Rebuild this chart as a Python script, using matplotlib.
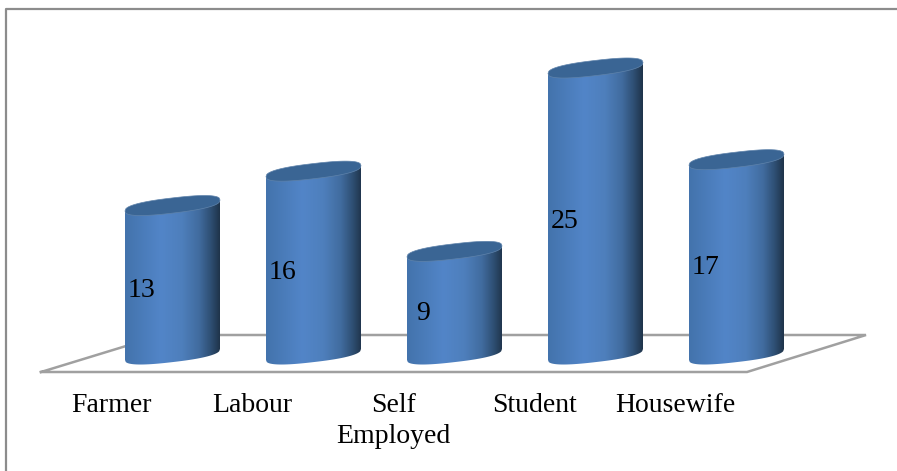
import numpy as np
from matplotlib import pyplot as plt
from matplotlib.colors import LinearSegmentedColormap
from matplotlib.patches import Polygon

#Values
categories = ['Farmer', 'Labour', 'Self\nEmployed', 'Student', 'Housewife']
values = [13, 16, 9, 25, 17]

#Pixel layout of the picture
W, H = 897, 471
X0, Y0 = 172.5, 360.0
XSTEP, YSTEP = 141.0, 11.46
BARW = 95.0
TILT = 11.0
RY = 7.6

fig = plt.figure(figsize=(W / 100, H / 100), dpi=100)
ax = fig.add_axes([0, 0, 1, 1])
ax.axis('off')


def dx(px):
    return (px - X0) / XSTEP


def dy(py):
    return (Y0 - py) / YSTEP


xlim = (dx(0), dx(W))
ylim = (dy(H), dy(0))

#Outer frame (open on the right and bottom) and floor of the 3D chart
grey = '#a0a0a0'
ax.plot([dx(6), dx(6), dx(897)], [dy(471), dy(9), dy(9)], color='#8c8c8c', lw=1.6)
floorX = [41, 747, 866, 162, 41]
floorY = [372, 372, 335, 335, 372]
ax.plot([dx(p) for p in floorX], [dy(p) for p in floorY], color=grey, lw=1.8, solid_joinstyle='miter')

#Shading across a cylinder, left to right
shade = LinearSegmentedColormap.from_list('cyl', [
    (0.0, '#4373ac'), (0.38, '#5285c8'), (0.60, '#4e7fbc'),
    (0.78, '#416c9f'), (0.90, '#2f5075'), (1.0, '#1f334a')])
gradient = np.linspace(0, 1, 256).reshape(1, -1)

#Arc of the tilted ellipse, a little fuller than a true ellipse near the ends
t = np.linspace(-1, 1, 120)
arc = (1 - np.abs(t) ** 2.5) ** (1 / 2.5)

for i, v in enumerate(values):
    centre = X0 + i * XSTEP
    xs = centre + t * BARW / 2
    baseMid = Y0 - TILT / 2 - t * TILT / 2
    topMid = baseMid - v * YSTEP

    #Body: top edge left to right, then bottom edge back
    bodyX = np.concatenate([xs, xs[::-1]])
    bodyY = np.concatenate([topMid, (baseMid + RY * arc)[::-1]])
    body = Polygon(np.column_stack([dx(bodyX), dy(bodyY)]), closed=True, fc='none', ec='none')
    ax.add_patch(body)
    img = ax.imshow(gradient, cmap=shade, aspect='auto', interpolation='bilinear', zorder=3,
                    extent=[dx(xs[0]), dx(xs[-1]), 0 - 1, v + 2])
    img.set_clip_path(body)

    #Cap of the cylinder
    capX = np.concatenate([xs, xs[::-1]])
    capY = np.concatenate([topMid - RY * arc, (topMid + RY * arc)[::-1]])
    ax.add_patch(Polygon(np.column_stack([dx(capX), dy(capY)]), closed=True, fc='#3a6594',
                         ec='#5f83ab', lw=0.5, zorder=4))

    #Value label sits left of the centre
    ax.text(i + dx(X0 - 31), v / 2 - 0.4, str(v), ha='center', va='center', fontsize=20,
            family='Liberation Serif', color='black', zorder=5)

    #Category label, offset to the left of the cylinder
    ax.text(i + dx(X0 - 61), dy(393), categories[i], ha='center', va='top', fontsize=20,
            family='Liberation Serif', color='black', linespacing=1.34, zorder=5)

ax.set_xlim(xlim)
ax.set_ylim(ylim)
fig.savefig('out.png', dpi=100)
